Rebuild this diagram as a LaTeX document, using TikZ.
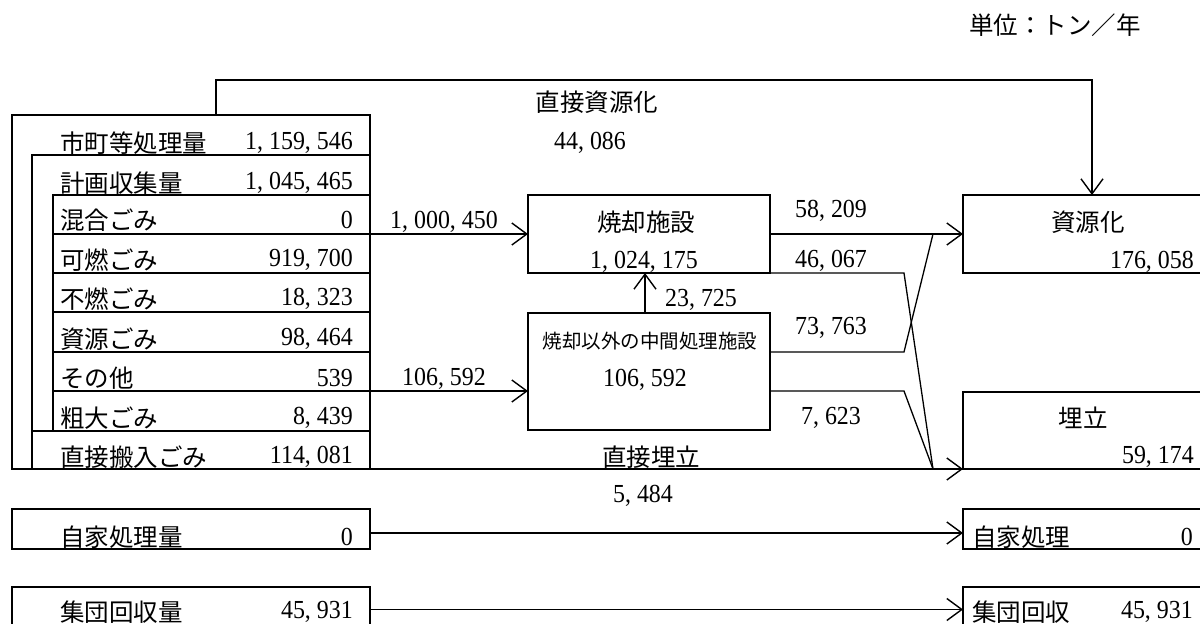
\documentclass[tikz,border=0pt]{standalone}
\usepackage{fontspec}
\setmainfont{Noto Sans CJK JP}
\newfontfamily\numf[FakeStretch=0.92]{Liberation Serif}
\usetikzlibrary{arrows.meta}
\begin{document}
\begin{tikzpicture}[x=1pt,y=-1pt,
 box/.style={draw, line width=1.3pt, inner sep=0pt, outer sep=0pt, anchor=north west},
 ln/.style={line width=1.3pt},
 arr/.style={ln, -{Straight Barb[length=15pt,width=22pt,line width=1.4pt]}},
 jp/.style={font=\fontsize{24.5}{28}\selectfont, inner sep=0pt},
 num/.style={font=\numf\fontsize{26}{30}\selectfont, inner sep=0pt},
 small/.style={font=\fontsize{19.5}{23}\selectfont, inner sep=0pt}]
\useasboundingbox (0,0) rectangle (1200,624);
% left boxes
\node[box, minimum width=358pt, minimum height=354pt] (shi) at (12,115) {};
\node[box, minimum width=338pt, minimum height=314pt] (kei) at (32,155) {};
\node[box, minimum width=317pt, minimum height=39pt] (r1) at (53,195) {};
\node[box, minimum width=317pt, minimum height=39pt] (r2) at (53,234) {};
\node[box, minimum width=317pt, minimum height=39pt] (r3) at (53,273) {};
\node[box, minimum width=317pt, minimum height=40pt] (r4) at (53,312) {};
\node[box, minimum width=317pt, minimum height=39pt] (r5) at (53,352) {};
\node[box, minimum width=317pt, minimum height=40pt] (r6) at (53,391) {};
\node[box, minimum width=338pt, minimum height=38pt] (r7) at (32,431) {};
\node[box, minimum width=358pt, minimum height=40pt] (jikaq) at (12,509) {};
\node[box, minimum width=358pt, minimum height=45pt] (shudanq) at (12,587) {};
% middle boxes
\node[box, minimum width=242pt, minimum height=78pt] (yak) at (528,195) {};
\node[box, minimum width=242pt, minimum height=117pt] (chukan) at (528,313) {};
% right boxes
\node[box, minimum width=258pt, minimum height=78pt] (shigen) at (963,195) {};
\node[box, minimum width=258pt, minimum height=77pt] (umetate) at (963,392) {};
\node[box, minimum width=258pt, minimum height=40pt] (jika) at (963,509) {};
\node[box, minimum width=258pt, minimum height=45pt] (shudan) at (963,587) {};
% kink coordinates
\coordinate (kink) at (904,0);
\coordinate (junc) at (933,0);
% connectors
\draw[arr] (r1.south east) -- (yak.west);
\draw[arr] (r5.south east) -- (chukan.west |- r5.south east);
\draw[arr] (r7.south east) -- (umetate.south west);
\draw[arr] ([xshift=-4pt]chukan.north) -- ([xshift=-4pt]yak.south);
\draw[arr] (yak.east) -- (shigen.west);
\draw[ln] (yak.south east) -- (kink |- yak.south east) -- (junc |- umetate.south west);
\draw[ln] (chukan.east |- r4.south east) -- (kink |- r4.south east) -- (junc |- yak.east);
\draw[ln] (chukan.east |- r5.south east) -- (kink |- r5.south east) -- (junc |- umetate.south west);
\draw[arr] ([xshift=204pt]shi.north west) -- ++(0,-35) -| (shigen.north);
\draw[arr] ([yshift=-4pt]jikaq.east) -- ([yshift=-4pt]jika.west);
\draw[arr] (shudanq.east) -- (shudan.west);
% left texts
\node[jp, anchor=west] (t1) at (60,143) {市町等処理量};
\node[num, anchor=east] (n1) at (353,143) {1, 159, 546};
\node[jp, anchor=west] (t2) at (60,183) {計画収集量};
\node[num, anchor=east] (n2) at (353,183) {1, 045, 465};
\node[jp, anchor=west] (t3) at (60,220) {混合ごみ};
\node[num, anchor=east] (n3) at (353,220) {0};
\node[jp, anchor=west] (t4) at (60,260) {可燃ごみ};
\node[num, anchor=east] (n4) at (353,260) {919, 700};
\node[jp, anchor=west] (t5) at (60,299) {不燃ごみ};
\node[num, anchor=east] (n5) at (353,299) {18, 323};
\node[jp, anchor=west] (t6) at (60,339) {資源ごみ};
\node[num, anchor=east] (n6) at (353,339) {98, 464};
\node[jp, anchor=west] (t7) at (60,378) {その他};
\node[num, anchor=east] (n7) at (353,378) {539};
\node[jp, anchor=west] (t8) at (60,418) {粗大ごみ};
\node[num, anchor=east] (n8) at (353,418) {8, 439};
\node[jp, anchor=west] (t9) at (60,457) {直接搬入ごみ};
\node[num, anchor=east] (n9) at (353,457) {114, 081};
\node[jp, anchor=west] (t10) at (60,537) {自家処理量};
\node[num, anchor=east] (n10) at (353,537) {0};
\node[jp, anchor=west] (t11) at (60,612) {集団回収量};
\node[num, anchor=east] (n11) at (353,612) {45, 931};
% flow labels
\node[num] (l1) at (444,222) {1, 000, 450};
\node[num] (l2) at (444,379) {106, 592};
\node[jp] (l3) at (651,457) {直接埋立};
\node[num] (l4) at (643,496) {5, 484};
\node[jp] (l5) at (597,102) {直接資源化};
\node[num] (l6) at (590,143) {44, 086};
\node[num] (l7) at (701,300) {23, 725};
\node[num] (l8) at (831,211) {58, 209};
\node[num] (l9) at (831,261) {46, 067};
\node[num] (l10) at (831,328) {73, 763};
\node[num] (l11) at (831,418) {7, 623};
% middle texts
\node[jp] (y1) at (646,222) {焼却施設};
\node[num] (y2) at (644,262) {1, 024, 175};
\node[small] (c1) at (650,341) {焼却以外の中間処理施設};
\node[num] (c2) at (645,380) {106, 592};
% right texts
\node[jp] (s1) at (1088,222) {資源化};
\node[num, anchor=east] (s2) at (1194,262) {176, 058};
\node[jp] (u1) at (1083,418) {埋立};
\node[num, anchor=east] (u2) at (1194,457) {59, 174};
\node[jp, anchor=west] (j1) at (972,537) {自家処理};
\node[num, anchor=east] (j2) at (1193,537) {0};
\node[jp, anchor=west] (g1) at (972,612) {集団回収};
\node[num, anchor=east] (g2) at (1193,612) {45, 931};
% unit
\node[jp] (unit) at (1055,25) {単位：トン／年};
\end{tikzpicture}
\end{document}
